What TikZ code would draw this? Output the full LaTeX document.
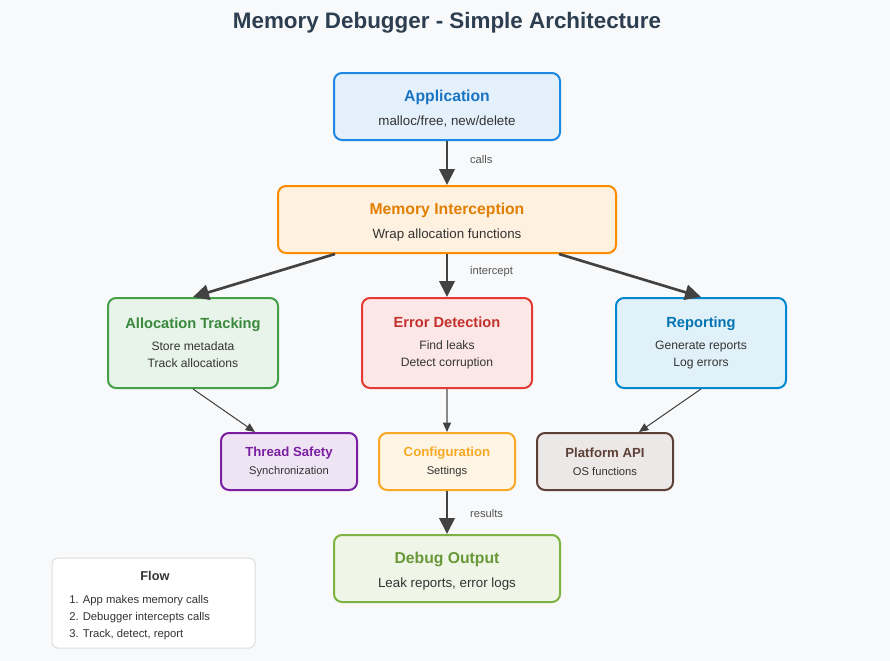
\documentclass[tikz,border=0pt]{standalone}
\usepackage{fontspec}
\setmainfont{Liberation Sans}
\usetikzlibrary{arrows.meta}

\definecolor{bgc}{HTML}{F8F9FA}
\definecolor{titc}{HTML}{2C3E50}
\definecolor{txtc}{HTML}{333333}
\definecolor{lblc}{HTML}{555555}
\definecolor{arrc}{HTML}{424242}
\definecolor{midgray}{HTML}{888888}
\definecolor{flowc}{HTML}{DDDDDD}
\definecolor{appc}{HTML}{1E88E5}
\definecolor{mic}{HTML}{FB8C00}
\definecolor{atc}{HTML}{43A047}
\definecolor{edc}{HTML}{E53935}
\definecolor{repc}{HTML}{0288D1}
\definecolor{tsc}{HTML}{7B1FA2}
\definecolor{cfgc}{HTML}{F9A825}
\definecolor{pac}{HTML}{5D4037}
\definecolor{dbgc}{HTML}{7CB342}

\begin{document}
\begin{tikzpicture}[x=0.75pt,y=-0.75pt,
	box/.style={draw=#1, fill=#1!12, line width=1.5pt, rounded corners=6pt, align=center, text=txtc},
	bigbox/.style={box=#1, minimum height=50.25pt, font=\fontsize{10}{12}\selectfont},
	midbox/.style={box=#1, minimum width=127.5pt, minimum height=67.5pt, font=\fontsize{9.1}{12.75}\selectfont},
	smallbox/.style={box=#1, minimum width=102pt, minimum height=42.75pt, font=\fontsize{8.4}{10}\selectfont},
	bigarr/.style={-{Triangle[length=12pt,width=11.5pt]}, line width=2pt, draw=arrc, fill=arrc},
	thinarr/.style={-{Triangle[length=7pt,width=6pt,color=arrc]}, line width=0.75pt, draw=arrc, fill=arrc},
	lbl/.style={font=\fontsize{8.4}{10}\selectfont, text=lblc}
	]
		\fill[bgc] (0,0) rectangle (890,661);
		\node[anchor=base, font=\bfseries\fontsize{16.8}{20}\selectfont, text=titc] (title) at (447,28) {Memory Debugger - Simple Architecture};
		% top of the stack
		\node[bigbox=appc, minimum width=169.5pt] (app) at (447,106.5) {\rule{0pt}{12.5pt}\textcolor{appc!85!black}{\bfseries\fontsize{11.8}{14}\selectfont Application}\\[6pt] malloc/free, new/delete};
		\node[bigbox=mic, minimum width=253.5pt] (mi) at (447,219.5) {\rule{0pt}{12.5pt}\textcolor{mic!90!black}{\bfseries\fontsize{11.8}{14}\selectfont Memory Interception}\\[6pt] Wrap allocation functions};
		\foreach \x /\alph/\name/\sub/\col in {
			193/at/Allocation Tracking/{Store metadata\\Track allocations}/atc,
			447/ed/Error Detection/{Find leaks\\Detect corruption}/edc,
			701/rep/Reporting/{Generate reports\\Log errors}/repc}{
			\node[midbox=\col] (\alph) at (\x,343) {\textcolor{\col!85!black}{\bfseries\fontsize{11}{13}\selectfont \name}\\[3.75pt] \sub};
		}
		\foreach \x /\alph/\name/\sub/\col in {
			289/ts/Thread Safety/Synchronization/tsc,
			447/cfg/Configuration/Settings/cfgc,
			605/pa/Platform API/OS functions/pac}{
			\node[smallbox=\col] (\alph) at (\x,461.5) {\textcolor{\col}{\bfseries\fontsize{9.9}{11}\selectfont \name}\\[3.5pt] \sub};
		}
		\node[bigbox=dbgc, minimum width=169.5pt] (dbg) at (447,568.5) {\rule{0pt}{12.5pt}\textcolor{dbgc!85!black}{\bfseries\fontsize{11.8}{14}\selectfont Debug Output}\\[6pt] Leak reports, error logs};
		% legend
		\node[draw=flowc, fill=white, line width=0.75pt, rounded corners=4pt, minimum width=152.25pt, minimum height=67.5pt] (flow) at (153.5,603) {};
		\node[font=\bfseries\fontsize{9.6}{11}\selectfont, text=txtc] (flowt) at (155,576) {Flow};
		\foreach \y /\alph/\name in {
			603/f1/{1. App makes memory calls},
			620/f2/{2. Debugger intercepts calls},
			637/f3/{3. Track, detect, report}}{
			\node[anchor=base west, inner sep=0pt, font=\fontsize{8.45}{10}\selectfont, text=txtc] (\alph) at (69,\y) {\name};
		}
		% connectors
		\draw[bigarr] (app) -- (mi) node[lbl, midway, anchor=west, xshift=13pt, yshift=3pt] {calls};
		\draw[bigarr] ([xshift=-84pt]mi.south) -- (at.north);
		\draw[bigarr] (mi) -- (ed) node[lbl, midway, anchor=west, xshift=13pt, yshift=3pt] {intercept};
		\draw[bigarr] ([xshift=84pt]mi.south) -- (rep.north);
		\draw[thinarr] (at.south) -- ([xshift=-25.5pt]ts.north);
		\draw[thinarr, draw=midgray, line width=1.1pt] (ed) -- (cfg);
		\draw[thinarr] (rep.south) -- ([xshift=25.5pt]pa.north);
		\draw[bigarr] (cfg) -- (dbg) node[lbl, midway, anchor=west, xshift=13pt, yshift=-1pt] {results};
\end{tikzpicture}
\end{document}
